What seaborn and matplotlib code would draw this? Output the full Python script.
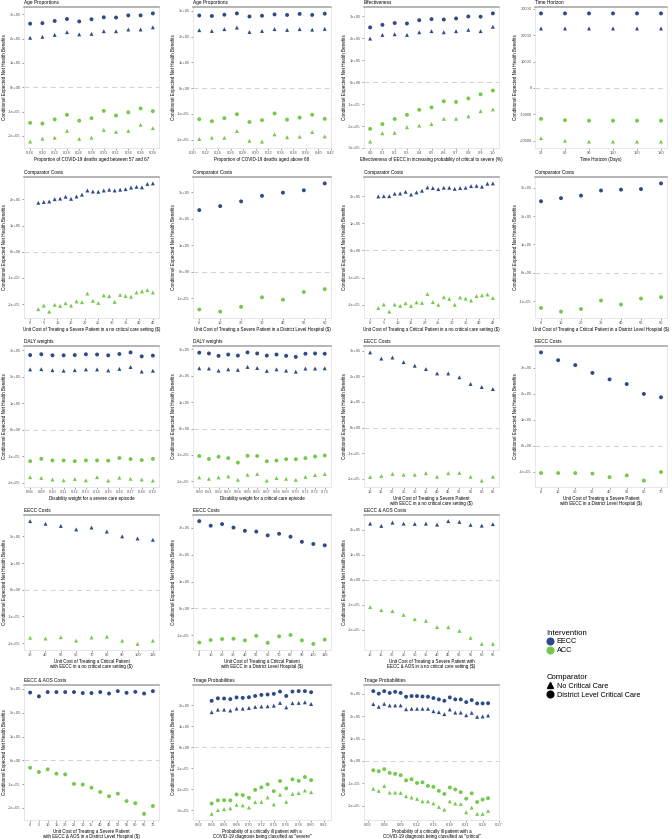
import pandas as pd
import seaborn as sns
import matplotlib.pyplot as plt
import numpy as np
from matplotlib.lines import Line2D
from matplotlib.ticker import MultipleLocator, FuncFormatter

# values are in thousands of net health benefits
age57_x = [0.18, 0.20, 0.22, 0.24, 0.26, 0.28, 0.30, 0.32, 0.34, 0.36, 0.38]
age57_eecc_circ = [261, 263, 272, 280, 270, 279, 287, 286, 295, 295, 303]
age57_eecc_tri = [203, 207, 215, 226, 217, 219, 230, 230, 237, 237, 246]
age57_acc_circ = [-146, -149, -132, -113, -137, -127, -97, -116, -103, -87, -98]
age57_acc_tri = [-223, -211, -207, -179, -212, -207, -175, -183, -179, -154, -168]

age68_x = [0.21, 0.23, 0.25, 0.27, 0.29, 0.31, 0.33, 0.35, 0.37, 0.39, 0.41]
age68_eecc_circ = [282, 280, 285, 290, 278, 281, 286, 284, 288, 284, 289]
age68_eecc_tri = [225, 222, 229, 235, 218, 222, 229, 226, 229, 227, 230]
age68_acc_circ = [-120, -128, -116, -101, -131, -124, -98, -122, -114, -103, -119]
age68_acc_tri = [-197, -192, -192, -166, -204, -207, -179, -190, -188, -170, -187]

eff_x = [0.0, 0.1, 0.2, 0.3, 0.4, 0.5, 0.6, 0.7, 0.8, 0.9, 1.0]
eff_eecc_circ = [250, 262, 270, 268, 283, 288, 286, 291, 300, 299, 314]
eff_eecc_tri = [199, 216, 219, 216, 228, 233, 228, 233, 239, 233, 253]
eff_acc_circ = [-213, -191, -168, -149, -126, -115, -87, -90, -74, -55, -38]
eff_acc_tri = [-271, -233, -231, -205, -198, -191, -167, -167, -156, -132, -124]

horizon_x = [30, 60, 90, 120, 150, 180]
horizon_eecc_circ = [28.2, 28.2, 28.2, 28.2, 28.2, 28.2]
horizon_eecc_tri = [22.5, 22.5, 22.5, 22.5, 22.5, 22.5]
horizon_acc_circ = [-11.7, -12.2, -12.4, -12.4, -12.4, -12.4]
horizon_acc_tri = [-19.0, -20.0, -20.3, -20.3, -20.3, -20.3]

odd_costs = [3, 5, 7, 9, 11, 13, 15, 17, 19, 21, 23, 25, 27, 29, 31, 33, 35, 37, 39, 41, 43, 45]
comp_sev_nocc_eecc_tri = [187, 190, 192, 201, 203, 210, 202, 211, 218, 234, 230,
                          229, 234, 237, 234, 237, 239, 245, 248, 246, 259, 261]
comp_sev_nocc_acc_tri = [-220, -206, -229, -203, -207, -197, -206, -190, -193, -160, -188,
                         -196, -167, -170, -192, -165, -169, -172, -156, -152, -147, -156]

dlh_costs = [0, 10, 20, 30, 40, 50, 60]
comp_sev_dlh_eecc_circ = [233, 248, 266, 287, 299, 308, 334]
comp_sev_dlh_acc_circ = [-143, -151, -133, -97, -106, -77, -66]

comp_crit_nocc_eecc_tri = [199, 200, 200, 209, 210, 216, 206, 214, 220, 232, 230,
                           226, 231, 231, 227, 230, 231, 237, 238, 235, 246, 247]
comp_crit_nocc_acc_tri = [-212, -199, -225, -199, -204, -194, -204, -191, -193, -160, -190,
                          -200, -172, -178, -200, -173, -177, -184, -168, -165, -162, -175]

comp_crit_dlh_eecc_circ = [252, 263, 272, 290, 293, 295, 315]
comp_crit_dlh_acc_circ = [-124, -137, -128, -98, -112, -91, -86]

daly_sev_x = [0.08, 0.09, 0.10, 0.11, 0.12, 0.13, 0.14, 0.15, 0.16, 0.17, 0.18, 0.19]
daly_sev_eecc_circ = [282, 285, 281, 281, 282, 285, 284, 281, 286, 292, 277, 280]
daly_sev_eecc_tri = [228, 229, 225, 223, 225, 228, 228, 224, 230, 237, 220, 223]
daly_sev_acc_circ = [-118, -109, -115, -115, -118, -115, -115, -116, -106, -110, -114, -109]
daly_sev_acc_tri = [-178, -181, -187, -190, -185, -190, -178, -191, -180, -184, -187, -191]

daly_crit_x = [0.60, 0.61, 0.62, 0.63, 0.64, 0.65, 0.66, 0.67, 0.68, 0.69, 0.70, 0.71, 0.72, 0.73]
daly_crit_eecc_circ = [287, 284, 275, 280, 276, 288, 284, 276, 280, 275, 271, 283, 284, 283]
daly_crit_eecc_tri = [228, 227, 219, 224, 222, 233, 229, 218, 224, 219, 215, 227, 227, 228]
daly_crit_acc_circ = [-104, -115, -107, -112, -129, -103, -104, -124, -121, -116, -116, -112, -106, -102]
daly_crit_acc_tri = [-185, -190, -185, -181, -194, -175, -172, -197, -187, -190, -194, -183, -176, -172]

eecc_sev_nocc_x = [10, 15, 20, 25, 30, 35, 40, 45, 50, 55, 60, 65]
eecc_sev_nocc_eecc_tri = [293, 269, 273, 255, 241, 228, 211, 211, 196, 170, 158, 150]
eecc_sev_nocc_acc_tri = [-193, -189, -181, -184, -184, -178, -192, -178, -177, -192, -207, -192]

eecc_sev_dlh_x = [0, 10, 20, 30, 40, 50, 60, 70]
eecc_sev_dlh_eecc_circ = [360, 330, 311, 281, 256, 238, 200, 187]
eecc_sev_dlh_acc_circ = [-105, -105, -105, -107, -121, -114, -134, -101]

eecc_crit_nocc_x = [30, 40, 50, 60, 70, 80, 90, 100, 110]
eecc_crit_nocc_eecc_tri = [257, 247, 239, 226, 233, 218, 200, 192, 187]
eecc_crit_nocc_acc_tri = [-180, -183, -178, -191, -179, -176, -191, -203, -191]

eecc_crit_dlh_x = [0, 10, 20, 30, 40, 50, 60, 70, 80, 90, 100, 110]
eecc_crit_dlh_eecc_circ = [325, 308, 314, 301, 289, 286, 272, 278, 267, 248, 240, 235]
eecc_crit_dlh_acc_circ = [-127, -118, -114, -113, -119, -102, -128, -104, -99, -119, -132, -116]

aos_sev_nocc_x = [10, 15, 20, 25, 30, 35, 40, 45, 50, 55, 60, 65]
aos_sev_nocc_eecc_tri = [225, 216, 229, 225, 224, 225, 221, 235, 232, 220, 217, 223]
aos_sev_nocc_acc_tri = [-109, -121, -125, -140, -157, -164, -189, -189, -204, -232, -256, -256]

aos_sev_dlh_x = [0, 5, 10, 15, 20, 25, 30, 35, 40, 45, 50, 55, 60, 65, 70]
aos_sev_dlh_eecc_circ = [285, 269, 287, 287, 287, 287, 283, 283, 287, 281, 291, 284, 288, 281, 291]
aos_sev_dlh_acc_circ = [-31, -49, -38, -56, -59, -99, -102, -115, -133, -151, -140, -171, -180, -225, -192]

triage_sev_x = [0.64, 0.65, 0.66, 0.67, 0.68, 0.69, 0.70, 0.71, 0.72, 0.73, 0.74, 0.75,
                0.76, 0.77, 0.78, 0.79, 0.80]
triage_sev_eecc_circ = [221, 233, 232, 229, 237, 235, 238, 244, 249, 251, 254, 265, 244, 265, 267, 267, 262]
triage_sev_eecc_tri = [167, 179, 179, 175, 184, 184, 187, 192, 194, 195, 198, 211, 190, 210, 211, 214, 206]
triage_sev_acc_circ = [-267, -252, -251, -252, -224, -227, -240, -202, -190, -176, -208, -160,
                       -195, -152, -159, -141, -156]
triage_sev_acc_tri = [-316, -298, -294, -290, -273, -276, -286, -260, -259, -238, -271, -225,
                      -259, -221, -217, -205, -213]

triage_crit_x = [0.04, 0.05, 0.06, 0.07, 0.08, 0.09, 0.10, 0.11, 0.12, 0.13, 0.14,
                 0.15, 0.16, 0.17, 0.18, 0.19, 0.20, 0.21, 0.22, 0.23, 0.24, 0.25]
triage_crit_eecc_circ = [312, 301, 312, 304, 309, 304, 287, 290, 290, 288, 287,
                         281, 275, 269, 284, 275, 275, 263, 272, 257, 257, 258]
triage_crit_eecc_tri = [254, 242, 255, 248, 248, 248, 231, 233, 233, 233, 233,
                        222, 218, 209, 230, 216, 216, 204, 215, 197, 199, 203]
triage_crit_acc_circ = [-42, -46, -37, -54, -58, -64, -87, -82, -99, -96, -112,
                        -116, -134, -148, -119, -128, -140, -169, -145, -184, -173, -167]
triage_crit_acc_tri = [-125, -134, -112, -142, -142, -143, -158, -164, -170, -181, -181,
                       -190, -206, -218, -181, -191, -193, -230, -209, -237, -237, -224]

BLUE = '#2e4a87'
GREEN = '#74c94b'
palette = {'EECC': BLUE, 'ACC': GREEN}
markers = {'No Critical Care': '^', 'District Level Critical Care': 'o'}
YLAB = 'Conditional Expected Net Health Benefits'

plt.rcParams['font.family'] = ['Liberation Sans', 'DejaVu Sans']


def long_df(x, eecc_tri=None, eecc_circ=None, acc_tri=None, acc_circ=None, unit=1000):
    parts = []
    for interv, comp, y in [('EECC', 'No Critical Care', eecc_tri),
                            ('EECC', 'District Level Critical Care', eecc_circ),
                            ('ACC', 'No Critical Care', acc_tri),
                            ('ACC', 'District Level Critical Care', acc_circ)]:
        if y is None:
            continue
        parts.append(pd.DataFrame({'x': x, 'y': np.array(y) * unit,
                                   'Intervention': interv, 'Comparator': comp}))
    return pd.concat(parts, ignore_index=True)


sci = FuncFormatter(lambda v, p: f'{v:.0e}')
plain = FuncFormatter(lambda v, p: f'{v:.0f}')

# (row, col, title, xlabel, data, x tick step, x tick format, xlim)
panels = [
    (0, 0, 'Age Proportions', 'Proportion of COVID-19 deaths aged between 57 and 67',
     long_df(age57_x, age57_eecc_tri, age57_eecc_circ, age57_acc_tri, age57_acc_circ), 0.02, '{:.2f}', None),
    (0, 1, 'Age Proportions', 'Proportion of COVID-19 deaths aged above 68',
     long_df(age68_x, age68_eecc_tri, age68_eecc_circ, age68_acc_tri, age68_acc_circ), 0.02, '{:.2f}', (0.2, 0.42)),
    (0, 2, 'Effectiveness', 'Effectiveness of EECC in increasing probability of critical to severe (%)',
     long_df(eff_x, eff_eecc_tri, eff_eecc_circ, eff_acc_tri, eff_acc_circ), 0.1, '{:.1f}', None),
    (0, 3, 'Time Horizon', 'Time Horizon (Days)',
     long_df(horizon_x, horizon_eecc_tri, horizon_eecc_circ, horizon_acc_tri, horizon_acc_circ), 30, '{:.0f}', None),
    (1, 0, 'Comparator Costs', 'Unit Cost of Treating a Severe Patient in a no critical care setting ($)',
     long_df(odd_costs, comp_sev_nocc_eecc_tri, None, comp_sev_nocc_acc_tri, None), 5, '{:.0f}', (-2.25, 47.25)),
    (1, 1, 'Comparator Costs', 'Unit Cost of Treating a Severe Patient in a District Level Hospital ($)',
     long_df(dlh_costs, None, comp_sev_dlh_eecc_circ, None, comp_sev_dlh_acc_circ), 10, '{:.0f}', None),
    (1, 2, 'Comparator Costs', 'Unit Cost of Treating a Critical Patient in a no critical care setting ($)',
     long_df(odd_costs, comp_crit_nocc_eecc_tri, None, comp_crit_nocc_acc_tri, None), 5, '{:.0f}', (-2.25, 47.25)),
    (1, 3, 'Comparator Costs', 'Unit Cost of Treating a Critical Patient in a District Level Hospital ($)',
     long_df(dlh_costs, None, comp_crit_dlh_eecc_circ, None, comp_crit_dlh_acc_circ), 10, '{:.0f}', None),
    (2, 0, 'DALY weights', 'Disability weight for a severe care episode',
     long_df(daly_sev_x, daly_sev_eecc_tri, daly_sev_eecc_circ, daly_sev_acc_tri, daly_sev_acc_circ), 0.01, '{:.2f}', None),
    (2, 1, 'DALY weights', 'Disability weight for a critical care episode',
     long_df(daly_crit_x, daly_crit_eecc_tri, daly_crit_eecc_circ, daly_crit_acc_tri, daly_crit_acc_circ), 0.01, '{:.2f}', None),
    (2, 2, 'EECC Costs', 'Unit Cost of Treating a Severe Patient\nwith EECC in a no critical care setting ($)',
     long_df(eecc_sev_nocc_x, eecc_sev_nocc_eecc_tri, None, eecc_sev_nocc_acc_tri, None), 5, '{:.0f}', None),
    (2, 3, 'EECC Costs', 'Unit Cost of Treating a Severe Patient\nwith EECC in a District Level Hospital ($)',
     long_df(eecc_sev_dlh_x, None, eecc_sev_dlh_eecc_circ, None, eecc_sev_dlh_acc_circ), 10, '{:.0f}', None),
    (3, 0, 'EECC Costs', 'Unit Cost of Treating a Critical Patient\nwith EECC in a no critical care setting ($)',
     long_df(eecc_crit_nocc_x, eecc_crit_nocc_eecc_tri, None, eecc_crit_nocc_acc_tri, None), 10, '{:.0f}', None),
    (3, 1, 'EECC Costs', 'Unit Cost of Treating a Critical Patient\nwith EECC in a District Level Hospital ($)',
     long_df(eecc_crit_dlh_x, None, eecc_crit_dlh_eecc_circ, None, eecc_crit_dlh_acc_circ), 10, '{:.0f}', None),
    (3, 2, 'EECC & AOS Costs', 'Unit Cost of Treating a Severe Patient with\nEECC & AOS in a no critical care setting ($)',
     long_df(aos_sev_nocc_x, aos_sev_nocc_eecc_tri, None, aos_sev_nocc_acc_tri, None), 5, '{:.0f}', None),
    (4, 0, 'EECC & AOS Costs', 'Unit Cost of Treating a Severe Patient\nwith EECC & AOS in a District Level Hospital ($)',
     long_df(aos_sev_dlh_x, None, aos_sev_dlh_eecc_circ, None, aos_sev_dlh_acc_circ), 5, '{:.0f}', None),
    (4, 1, 'Triage Probabilities', 'Probability of a critically ill patient with a\nCOVID-19 diagnosis being classified as "severe"',
     long_df(triage_sev_x, triage_sev_eecc_tri, triage_sev_eecc_circ, triage_sev_acc_tri, triage_sev_acc_circ),
     0.02, '{:.2f}', (0.61, 0.832)),
    (4, 2, 'Triage Probabilities', 'Probability of a critically ill patient with a\nCOVID-19 diagnosis being classified as "critical"',
     long_df(triage_crit_x, triage_crit_eecc_tri, triage_crit_eecc_circ, triage_crit_acc_tri, triage_crit_acc_circ),
     0.03, '{:.2f}', (0.023, 0.27)),
]

W, H = 672, 839
col_px = [(24, 159), (193, 331), (364, 499), (535, 667)]
row_px = [(7, 148), (177, 318), (346, 487), (515, 650), (685, 820)]

fig = plt.figure(figsize=(W / 100, H / 100), dpi=100)

for row, col, title, xlabel, df, xstep, xfmt, xlim in panels:
    l, r = col_px[col]
    t, b = row_px[row]
    ax = fig.add_axes([l / W, 1 - b / H, (r - l) / W, (b - t) / H])
    ax.set_facecolor('white')
    ax.axhline(0, color='#d0d0d0', lw=0.7, ls=(0, (5, 4)), zorder=0)
    sns.scatterplot(data=df, x='x', y='y', hue='Intervention', style='Comparator',
                    palette=palette, markers=markers, hue_order=['EECC', 'ACC'],
                    style_order=['No Critical Care', 'District Level Critical Care'],
                    s=8, linewidth=0, legend=False, ax=ax, zorder=3)
    ax.margins(x=0.05, y=0.05)
    if xlim is not None:
        ax.set_xlim(*xlim)
    ax.xaxis.set_major_locator(MultipleLocator(xstep))
    ax.xaxis.set_major_formatter(FuncFormatter(lambda v, p, f=xfmt: f.format(v + 0.0)))
    if title == 'Time Horizon':
        ax.yaxis.set_major_locator(MultipleLocator(10000))
        ax.yaxis.set_major_formatter(plain)
    else:
        ax.yaxis.set_major_locator(MultipleLocator(100000))
        ax.yaxis.set_major_formatter(sci)
    for side in ['left', 'right', 'bottom']:
        ax.spines[side].set_color('#e3e3e3')
        ax.spines[side].set_linewidth(0.6)
    ax.spines['top'].set_color('#a0a0a0')
    ax.spines['top'].set_linewidth(1.1)
    ax.tick_params(axis='both', labelsize=2.9, colors='#555555', length=1.5, width=0.4, pad=1)
    ax.set_xlabel(xlabel, fontsize=3.25, labelpad=1, linespacing=1.0)
    ax.set_ylabel(YLAB, fontsize=3.3, labelpad=1)
    ax.text(0.0, 1.012, title, transform=ax.transAxes, fontsize=3.4,
            ha='left', va='bottom')

# legend in the empty lower-right area
int_handles = [Line2D([], [], marker='o', ls='', color=BLUE, markersize=4.8),
               Line2D([], [], marker='o', ls='', color=GREEN, markersize=4.8)]
fig.legend(int_handles, ['EECC', 'ACC'], title='Intervention', loc='upper left',
           bbox_to_anchor=(0.808, 0.254), frameon=False, fontsize=5.2,
           title_fontsize=5.6, alignment='left', handlelength=1.0,
           handletextpad=0.4, labelspacing=0.25, borderpad=0)
cmp_handles = [Line2D([], [], marker='^', ls='', color='black', markersize=4.8),
               Line2D([], [], marker='o', ls='', color='black', markersize=4.8)]
fig.legend(cmp_handles, ['No Critical Care', 'District Level Critical Care'], title='Comparator',
           loc='upper left', bbox_to_anchor=(0.808, 0.201), frameon=False, fontsize=5.2,
           title_fontsize=5.6, alignment='left', handlelength=1.0,
           handletextpad=0.4, labelspacing=0.25, borderpad=0)

fig.savefig('out.png', dpi=100, facecolor='white')
